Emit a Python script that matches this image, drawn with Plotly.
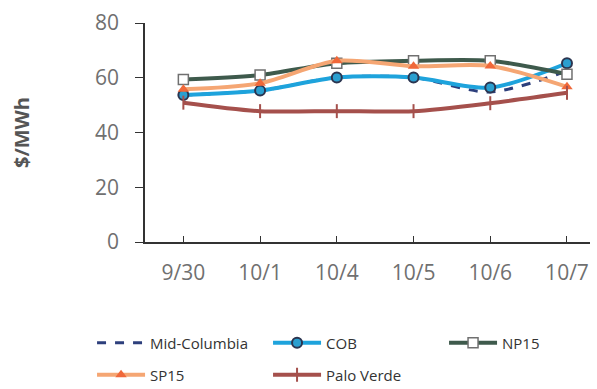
import plotly.graph_objects as go

dates = ["9/30", "10/1", "10/4", "10/5", "10/6", "10/7"]
mid_columbia = [53.7, 55.3, 60.1, 60.1, 54.8, 62.5]
cob = [53.7, 55.3, 60.1, 60.1, 56.4, 65.3]
np15 = [59.4, 61.0, 65.3, 66.2, 66.2, 61.3]
sp15 = [55.8, 58.0, 66.2, 64.2, 64.3, 56.7]
palo_verde = [50.9, 47.8, 47.8, 47.8, 50.7, 54.5]

fig = go.Figure()

fig.add_trace(go.Scatter(
    x=dates, y=mid_columbia, name="Mid-Columbia", mode="lines", legend="legend",
    line=dict(color="#2d3f7c", width=3, dash="dash", shape="spline", smoothing=0.8),
))
fig.add_trace(go.Scatter(
    x=dates, y=cob, name="COB", mode="lines+markers", legend="legend",
    line=dict(color="#1ea3dc", width=4, shape="spline", smoothing=0.8),
    marker=dict(symbol="circle", size=10, color="#2a9fd0", line=dict(color="#2b3550", width=2)),
))
fig.add_trace(go.Scatter(
    x=dates, y=np15, name="NP15", mode="lines+markers", legend="legend",
    line=dict(color="#3e5a4c", width=4, shape="spline", smoothing=0.8),
    marker=dict(symbol="square", size=10, color="#ffffff", line=dict(color="#707070", width=1.5)),
))
fig.add_trace(go.Scatter(
    x=dates, y=sp15, name="SP15", mode="lines+markers", legend="legend2",
    line=dict(color="#f5a673", width=4, shape="spline", smoothing=0.8),
    marker=dict(symbol="triangle-up", size=10, color="#f0683a"),
))
fig.add_trace(go.Scatter(
    x=dates, y=palo_verde, name="Palo Verde", mode="lines+markers", legend="legend2",
    line=dict(color="#a5504c", width=4, shape="spline", smoothing=0.8),
    marker=dict(symbol="line-ns-open", size=10, color="#a5504c", line=dict(color="#a5504c", width=2)),
))

legend_common = dict(
    orientation="h", x=-0.119, xanchor="left", yanchor="middle",
    entrywidth=113, entrywidthmode="pixels", itemwidth=48,
    font=dict(size=15, color="#333333"), tracegroupgap=0,
    bgcolor="rgba(0,0,0,0)",
)

fig.update_layout(
    width=597, height=389,
    margin=dict(l=145, r=7, t=23, b=147, autoexpand=False),
    paper_bgcolor="white", plot_bgcolor="white",
    font=dict(family="Open Sans", color="#707070"),
    showlegend=True,
    legend=dict(legend_common, y=-0.461),
    legend2=dict(legend_common, y=-0.607),
    xaxis=dict(
        type="category", range=[-0.5, 5.3],
        showline=True, linecolor="#333333", linewidth=1.5,
        ticks="inside", ticklen=6, tickcolor="#333333",
        tickfont=dict(size=21, color="#707070"), ticklabelstandoff=11,
        showgrid=False, zeroline=False,
    ),
    yaxis=dict(
        range=[0, 80], dtick=20,
        showline=True, linecolor="#333333", linewidth=1.5,
        ticks="outside", ticklen=8, tickcolor="#333333",
        tickfont=dict(size=21, color="#707070"), ticklabelstandoff=12,
        showgrid=False, zeroline=False,
        title=dict(text="<b>$/MWh</b>", font=dict(size=20, color="#555555"), standoff=60),
    ),
)

fig.write_html("out.html")
